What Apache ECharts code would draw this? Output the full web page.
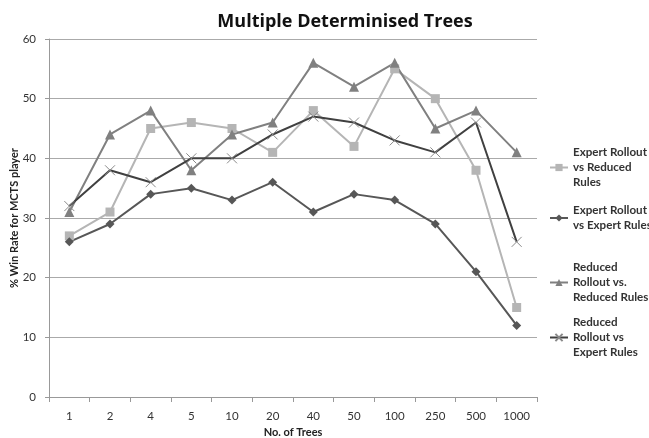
<!DOCTYPE html>
<html>
<head>
<meta charset="utf-8">
<script src="https://cdn.jsdelivr.net/npm/echarts@6/dist/echarts.min.js"></script>
<style>html,body{margin:0;padding:0;background:#fff}#c{width:649px;height:438px}</style>
</head>
<body>
<div id="c"></div>
<script>
var categories = ['1','2','4','5','10','20','40','50','100','250','500','1000'];
var yTicks = [0,10,20,30,40,50,60];
var expertVsReduced = [27,31,45,46,45,41,48,42,55,50,38,15];
var expertVsExpert = [26,29,34,35,33,36,31,34,33,29,21,12];
var reducedVsReduced = [31,44,48,38,44,46,56,52,56,45,48,41];
var reducedVsExpert = [32,38,36,40,40,44,47,46,43,41,46,26];
var names = ['Expert Rollout\nvs Reduced\nRules','Expert Rollout\nvs Expert Rules','Reduced\nRollout vs.\nReduced Rules','Reduced\nRollout vs\nExpert Rules'];

var font = 'Lato';
var chart = echarts.init(document.getElementById('c'));
function legendFor(i, top){
  return {
    data:[names[i]], orient:'vertical', left:549, top:top, padding:0,
    itemWidth:18, itemHeight:9, itemGap:0,
    textStyle:{fontFamily:font, fontSize:11.6, fontWeight:'bold', color:'#333', lineHeight:15},
    selectedMode:false
  };
}
chart.setOption({
  animation:false,
  title:{text:'Multiple Determinised Trees', left:340, textAlign:'center', top:8,
    textStyle:{fontFamily:'Open Sans', fontSize:18, fontWeight:'bold', color:'#111'}},
  legend:[legendFor(0,145), legendFor(1,203), legendFor(2,260), legendFor(3,315)],
  grid:{left:49, right:112, top:39, bottom:41, containLabel:false, outerBoundsMode:'none'},
  xAxis:{type:'category', data:categories, boundaryGap:true,
    name:'No. of Trees', nameLocation:'middle', nameGap:30, nameMoveOverlap:false,
    nameTextStyle:{fontFamily:font, fontSize:11, fontWeight:'bold', color:'#222'},
    axisLine:{lineStyle:{color:'#999', width:1}},
    axisTick:{show:true, length:5, lineStyle:{color:'#999'}},
    axisLabel:{fontFamily:font, fontSize:11.5, color:'#333', margin:13}},
  yAxis:{type:'value', min:0, max:60, interval:10,
    name:'% Win Rate for MCTS player', nameLocation:'middle', nameGap:29, nameRotate:90,
    nameMoveOverlap:false,
    nameTextStyle:{fontFamily:font, fontSize:11, fontWeight:'bold', color:'#222'},
    axisLine:{show:true, lineStyle:{color:'#999'}},
    axisTick:{show:true, length:4, lineStyle:{color:'#999'}},
    axisLabel:{fontFamily:font, fontSize:11.5, color:'#333', margin:13,
      formatter:function(v){return yTicks.indexOf(v)>=0? String(v):'';}},
    splitLine:{lineStyle:{color:'#aaa', width:1}}},
  series:[
    {name:names[0], type:'line', data:expertVsReduced, symbol:'rect', symbolSize:9,
      itemStyle:{color:'#b5b5b5'}, lineStyle:{color:'#b5b5b5', width:2}},
    {name:names[1], type:'line', data:expertVsExpert, symbol:'diamond', symbolSize:9,
      itemStyle:{color:'#575757'}, lineStyle:{color:'#575757', width:2}},
    {name:names[2], type:'line', data:reducedVsReduced, symbol:'triangle', symbolSize:10,
      itemStyle:{color:'#808080'}, lineStyle:{color:'#808080', width:2}},
    {name:names[3], type:'line', data:reducedVsExpert,
      symbol:'path://M0,0L10,10M10,0L0,10', symbolSize:10,
      itemStyle:{color:'none', borderColor:'#8a8a8a', borderWidth:1},
      lineStyle:{color:'#404040', width:2}}
  ]
});
</script>
</body>
</html>
